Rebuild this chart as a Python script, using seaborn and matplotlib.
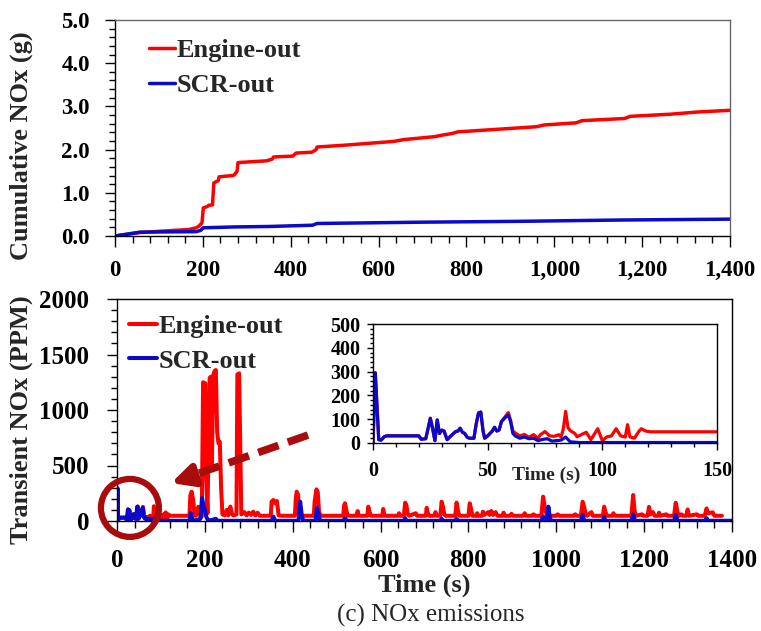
import matplotlib
matplotlib.use("Agg")
import matplotlib.pyplot as plt
from matplotlib.ticker import MultipleLocator, FuncFormatter
from matplotlib.patches import Ellipse
import seaborn as sns

# ---------------- cumulative NOx (g) ----------------
cum_eng_t = [0, 57, 150, 168, 185, 190, 198, 201, 210, 213,
             222, 225, 235, 237, 268, 271, 278, 280, 345, 348,
             358, 361, 405, 412, 448, 450, 458, 460, 520, 635,
             656, 728, 742, 766, 780, 960, 977, 1050, 1063, 1160,
             1173, 1265, 1326, 1400]
cum_eng_v = [0.00, 0.08, 0.14, 0.15, 0.19, 0.22, 0.30, 0.65, 0.68, 0.71,
             0.72, 1.23, 1.28, 1.37, 1.40, 1.41, 1.50, 1.70, 1.74, 1.75,
             1.78, 1.83, 1.85, 1.92, 1.94, 1.95, 2.00, 2.06, 2.10, 2.19,
             2.23, 2.30, 2.33, 2.37, 2.41, 2.53, 2.57, 2.62, 2.67, 2.72,
             2.77, 2.82, 2.87, 2.91]

cum_scr_t = [0, 57, 185, 195, 201, 273, 350, 450, 460, 700, 924, 1150, 1400]
cum_scr_v = [0.00, 0.09, 0.10, 0.13, 0.19, 0.21, 0.22, 0.25, 0.29, 0.32,
             0.34, 0.37, 0.39]

# ---------------- transient NOx (ppm) ----------------
eng_t = [0, 1, 2.5, 3.5, 5, 6, 20, 21, 23, 24,
         25, 26, 27, 28, 29, 30, 31, 32.3, 34, 36,
         37, 38, 39, 40, 41, 42, 44, 45, 46, 47,
         48, 48.7, 50, 52, 53, 54, 55, 56, 58, 59,
         60, 61, 62, 64, 66, 68, 70, 72, 73, 75,
         77, 79, 81, 82, 83, 84, 85, 86, 88, 89,
         91, 93, 95, 98, 100, 102, 104, 106, 108, 110,
         111, 112, 114, 116, 117, 119, 121, 165, 167, 170,
         173, 176, 179, 183, 185, 188, 193, 196, 201, 203,
         206, 208, 211, 214, 216, 219, 222, 225, 228, 231,
         234, 237, 240, 245, 250, 253, 258, 262, 265, 272,
         274, 278, 281, 283, 290, 295, 300, 305, 310, 315,
         320, 325, 350, 352, 356, 360, 364, 368, 375, 405,
         407, 409, 412, 415, 420, 448, 450, 454, 457, 460,
         464, 515, 517, 519, 522, 525, 545, 548, 550, 570,
         572, 575, 578, 604, 606, 609, 640, 642, 645, 653,
         656, 659, 662, 665, 680, 683, 703, 705, 708, 711,
         722, 725, 728, 736, 739, 742, 745, 748, 770, 773,
         776, 779, 800, 803, 806, 809, 818, 820, 822, 831,
         833, 836, 845, 848, 852, 856, 862, 866, 878, 880,
         883, 895, 898, 901, 925, 928, 931, 945, 948, 951,
         966, 970, 974, 978, 981, 1000, 1003, 1006, 1040, 1043,
         1046, 1056, 1060, 1064, 1067, 1070, 1080, 1083, 1106, 1109,
         1112, 1115, 1128, 1130, 1133, 1171, 1175, 1178, 1181, 1195,
         1198, 1208, 1211, 1214, 1220, 1224, 1232, 1234, 1237, 1250,
         1253, 1268, 1272, 1276, 1280, 1285, 1288, 1296, 1299, 1302,
         1320, 1323, 1338, 1342, 1346, 1356, 1360, 1377]
eng_v = [0, 295, 14, 12, 27, 30, 30, 16, 18, 60,
         104, 60, 10, 97, 40, 54, 50, 14, 30, 48,
         50, 62, 45, 40, 25, 20, 20, 80, 126, 130,
         50, 20, 30, 50, 66, 50, 55, 90, 115, 128,
         95, 50, 42, 30, 36, 24, 35, 20, 35, 48,
         30, 28, 35, 25, 60, 133, 65, 52, 40, 26,
         36, 45, 14, 60, 10, 26, 30, 60, 30, 25,
         77, 26, 20, 50, 60, 50, 47, 47, 230, 264,
         200, 80, 47, 60, 128, 60, 40, 1250, 1240, 400,
         70, 600, 1290, 1300, 500, 1310, 1350, 1360, 800, 700,
         714, 300, 60, 50, 100, 50, 130, 60, 50, 60,
         1320, 1330, 600, 60, 80, 50, 75, 55, 84, 50,
         75, 47, 47, 175, 189, 160, 180, 50, 47, 47,
         200, 264, 240, 60, 47, 47, 180, 285, 260, 80,
         47, 47, 140, 160, 100, 47, 47, 90, 47, 47,
         129, 80, 47, 47, 108, 47, 47, 70, 47, 47,
         165, 140, 60, 47, 70, 47, 47, 119, 60, 47,
         47, 80, 47, 47, 174, 130, 60, 47, 47, 165,
         100, 47, 47, 159, 110, 47, 47, 70, 47, 47,
         84, 55, 80, 55, 90, 55, 80, 47, 47, 75,
         47, 47, 65, 47, 47, 70, 47, 47, 60, 47,
         47, 219, 120, 60, 47, 47, 60, 47, 47, 60,
         47, 47, 174, 120, 60, 47, 80, 47, 47, 129,
         80, 47, 47, 70, 47, 47, 234, 100, 47, 60,
         47, 47, 127, 60, 80, 47, 47, 75, 47, 60,
         47, 47, 165, 80, 47, 60, 47, 47, 104, 47,
         60, 47, 47, 113, 70, 78, 47, 47]

scr_t = [0, 1, 2.5, 3.5, 5, 6, 20, 21, 23, 24,
         25, 26, 27, 28, 29, 30, 31, 32.3, 34, 36,
         37, 38, 39, 40, 41, 42, 44, 45, 46, 47,
         48, 48.7, 50, 52, 53, 54, 55, 56, 58, 59,
         60, 61, 62, 64, 66, 68, 70, 72, 74, 76,
         78, 80, 82, 84, 86, 90, 165, 168, 171, 174,
         190, 193.6, 197, 200, 203, 206, 210, 225, 228, 352,
         356, 360, 413, 417, 421, 424, 452, 455, 459, 462,
         515, 519, 523, 653, 656, 659, 736, 739, 742, 770,
         773, 776, 966, 970, 974, 979, 982, 985, 988, 1056,
         1060, 1064, 1106, 1109, 1112, 1171, 1175, 1179, 1268, 1272,
         1276, 1338, 1342, 1346, 1400]
scr_v = [0, 295, 14, 12, 27, 30, 30, 16, 18, 60,
         104, 60, 10, 97, 40, 54, 50, 14, 30, 48,
         50, 62, 45, 40, 25, 20, 20, 80, 126, 130,
         50, 20, 30, 50, 66, 50, 55, 90, 110, 118,
         90, 40, 30, 20, 25, 18, 20, 10, 15, 18,
         8, 10, 12, 25, 5, 2, 2, 75, 30, 2,
         20, 207, 140, 100, 40, 15, 2, 20, 2, 2,
         40, 2, 2, 174, 40, 2, 2, 117, 60, 2,
         2, 25, 2, 2, 25, 2, 2, 20, 2, 2,
         18, 2, 2, 40, 10, 2, 129, 40, 2, 2,
         55, 2, 2, 35, 2, 2, 60, 2, 2, 55,
         2, 2, 25, 2, 2]

RED = "#FF0000"
BLUE = "#0A0ACC"
MARK = "#A80C0C"

sns.set_theme(style="ticks")
plt.rcParams["font.family"] = ["Liberation Serif", "DejaVu Serif"]
plt.rcParams["font.weight"] = "bold"
plt.rcParams["axes.labelweight"] = "bold"
plt.rcParams["axes.linewidth"] = 1.0
plt.rcParams["xtick.color"] = "black"
plt.rcParams["ytick.color"] = "black"
plt.rcParams["axes.edgecolor"] = "black"

fig = plt.figure(figsize=(7.61, 6.31), dpi=100)

# ---------------- top panel: cumulative ----------------
ax1 = fig.add_axes([115 / 761, 1 - 236 / 631, 615 / 761, 216 / 631])
sns.lineplot(x=cum_eng_t, y=cum_eng_v, ax=ax1, color=RED, lw=2.5,
             estimator=None, sort=False, label="Engine-out")
sns.lineplot(x=cum_scr_t, y=cum_scr_v, ax=ax1, color=BLUE, lw=2.5,
             estimator=None, sort=False, label="SCR-out")
ax1.set_xlim(0, 1400)
ax1.set_ylim(0, 5.0)
ax1.xaxis.set_major_locator(MultipleLocator(200))
ax1.xaxis.set_minor_locator(MultipleLocator(40))
ax1.yaxis.set_major_locator(MultipleLocator(1.0))
ax1.yaxis.set_minor_locator(MultipleLocator(0.2))
ax1.xaxis.set_major_formatter(FuncFormatter(lambda v, p: f"{int(v):,}"))
ax1.yaxis.set_major_formatter(FuncFormatter(lambda v, p: f"{v:.1f}"))
ax1.tick_params(axis="x", which="major", direction="out", length=8, width=1,
                pad=9, labelsize=16.5)
ax1.tick_params(axis="x", which="minor", direction="out", length=5, width=1)
ax1.tick_params(axis="y", which="major", direction="out", length=7, width=1,
                pad=11, labelsize=16.5)
ax1.tick_params(axis="y", which="minor", direction="out", length=4, width=1)
for s in ("top", "right"):
    ax1.spines[s].set_visible(True)
    ax1.spines[s].set_color("#666666")
ax1.set_xlabel("")
ax1.set_ylabel("Cumulative NOx (g)", fontsize=19)
ax1.yaxis.set_label_coords(-0.133, 0.42)
ax1.legend(loc="upper left", bbox_to_anchor=(0.055, 0.915), frameon=False,
           handlelength=1.0, handletextpad=0.05, labelspacing=0.45,
           borderpad=0, borderaxespad=0, prop={"size": 19, "weight": "bold"})

# ---------------- bottom panel: transient ----------------
ax2 = fig.add_axes([117 / 761, 1 - 521 / 631, 615 / 761, 222 / 631])
sns.lineplot(x=eng_t, y=eng_v, ax=ax2, color=RED, lw=2.9,
             estimator=None, sort=False, label="Engine-out")
sns.lineplot(x=scr_t, y=scr_v, ax=ax2, color=BLUE, lw=2.9,
             estimator=None, sort=False, label="SCR-out")
ax2.set_xlim(0, 1400)
ax2.set_ylim(0, 2000)
ax2.xaxis.set_major_locator(MultipleLocator(200))
ax2.xaxis.set_minor_locator(MultipleLocator(40))
ax2.yaxis.set_major_locator(MultipleLocator(500))
ax2.yaxis.set_minor_locator(MultipleLocator(100))
ax2.tick_params(axis="x", which="major", direction="out", length=8, width=1,
                pad=12, labelsize=18)
ax2.tick_params(axis="x", which="minor", direction="out", length=5, width=1)
ax2.tick_params(axis="y", which="major", direction="out", length=7, width=1,
                pad=13, labelsize=18)
ax2.tick_params(axis="y", which="minor", direction="out", length=4, width=1)
for s in ("top", "right"):
    ax2.spines[s].set_visible(True)
ax2.set_xlabel("Time (s)", fontsize=19, labelpad=1)
ax2.set_ylabel("Transient NOx (PPM)", fontsize=19)
ax2.yaxis.set_label_coords(-0.137, 0.455)
ax2.legend(loc="upper left", bbox_to_anchor=(0.02, 0.93), frameon=False,
           handlelength=1.05, handletextpad=0.05, labelspacing=0.42,
           borderpad=0, borderaxespad=0, prop={"size": 19, "weight": "bold"})

# zoom marker: ring around the first 100 s and dashed pointer to the inset
ring = Ellipse((0.021, 0.059), 58 / 615, 58 / 222, transform=ax2.transAxes,
               fill=False, ec=MARK, lw=4.5, clip_on=False, zorder=6)
ax2.add_patch(ring)
ax2.plot([0.3106, 0.122], [0.387, 0.204], transform=ax2.transAxes,
         color=MARK, lw=5.5, dashes=(2.8, 1.3), solid_capstyle="butt",
         clip_on=False, zorder=6)
ax2.annotate("", xy=(0.088, 0.171), xytext=(0.126, 0.205),
             xycoords="axes fraction", textcoords="axes fraction",
             arrowprops=dict(arrowstyle="-|>,head_length=1.1,head_width=0.55",
                             color=MARK, lw=5, shrinkA=0, shrinkB=0),
             zorder=6)

# ---------------- inset: first 150 s ----------------
ax3 = fig.add_axes([373 / 761, 1 - 443 / 631, 344 / 761, 119 / 631])
ax3.set_facecolor("white")
sns.lineplot(x=eng_t, y=eng_v, ax=ax3, color=RED, lw=2.3,
             estimator=None, sort=False, legend=False)
sns.lineplot(x=scr_t, y=scr_v, ax=ax3, color=BLUE, lw=2.3,
             estimator=None, sort=False, legend=False)
ax3.set_xlim(0, 150)
ax3.set_ylim(0, 500)
ax3.xaxis.set_major_locator(MultipleLocator(50))
ax3.xaxis.set_minor_locator(MultipleLocator(10))
ax3.yaxis.set_major_locator(MultipleLocator(100))
ax3.yaxis.set_minor_locator(MultipleLocator(20))
ax3.tick_params(axis="x", which="major", direction="out", length=5, width=1,
                pad=8, labelsize=14.5)
ax3.tick_params(axis="x", which="minor", direction="out", length=3, width=1)
ax3.tick_params(axis="y", which="major", direction="out", length=4, width=1,
                pad=5, labelsize=14.5)
ax3.tick_params(axis="y", which="minor", direction="out", length=2.5, width=1)
for s in ("top", "right"):
    ax3.spines[s].set_visible(True)
ax3.set_xlabel("Time (s)", fontsize=14)
ax3.xaxis.set_label_coords(0.503, -0.2)
ax3.set_ylabel("")

fig.text(431 / 761, 1 - 615 / 631, "(c) NOx emissions", ha="center",
         va="center", fontsize=18, fontweight="normal")

fig.savefig("out.png", dpi=100)
